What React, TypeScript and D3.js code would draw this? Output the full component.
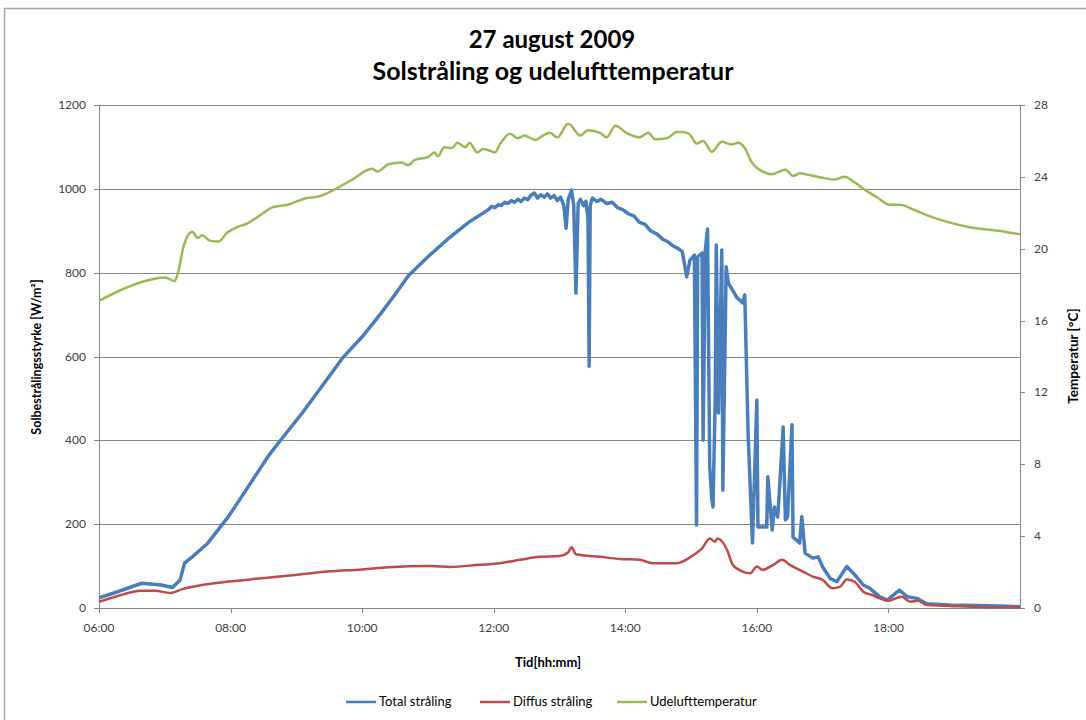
import React from "react";
import * as d3 from "d3";

// ---- Data ----
const totalTimes = ["06:00","06:15","06:39","06:57","07:07","07:14","07:18","07:25","07:39","07:58","08:16","08:34","08:47","09:05","09:23","09:42","10:00","10:09","10:18","10:30","10:42","11:00","11:18","11:37","11:55","11:58","12:01","12:04","12:07","12:10","12:13","12:16","12:19","12:22","12:25","12:28","12:31","12:34","12:37","12:40","12:43","12:46","12:49","12:52","12:55","12:58","13:01","13:04","13:06","13:08","13:11","13:13","13:15","13:17","13:19","13:22","13:24","13:26","13:27","13:28","13:30","13:34","13:38","13:43","13:48","13:53","13:58","14:03","14:08","14:13","14:18","14:23","14:29","14:34","14:38","14:43","14:48","14:52","14:56","14:59","15:03","15:05","15:06","15:10","15:11","15:13","15:15","15:17","15:19","15:20","15:22","15:23","15:25","15:28","15:29","15:32","15:34","15:42","15:47","15:49","15:52","15:56","16:00","16:01","16:09","16:10","16:14","16:16","16:19","16:21","16:24","16:26","16:28","16:32","16:33","16:39","16:41","16:44","16:51","16:56","17:00","17:07","17:13","17:22","17:28","17:37","17:43","17:52","17:59","18:10","18:17","18:26","18:35","18:56","19:42","20:00"];
const totalValues = [24,37,59,55,49,67,107,122,154,218,289,361,405,464,528,596,647,676,706,748,792,838,880,920,950,958,955,962,960,968,965,972,968,975,970,978,974,985,990,978,986,980,988,978,984,972,980,960,906,975,997,960,751,965,975,960,970,930,577,960,978,970,975,965,968,955,950,940,935,920,915,900,892,880,875,865,858,850,790,830,842,198,838,847,400,854,904,337,258,241,496,866,465,854,281,814,775,740,728,747,417,155,496,193,193,313,186,241,217,298,432,210,217,437,169,155,218,131,119,122,98,70,63,99,83,55,47,27,19,43,27,23,10,7,5,3];

const diffusTimes = ["06:00","06:15","06:39","06:51","07:05","07:16","07:28","07:58","08:29","08:59","09:29","10:00","10:24","11:02","11:20","11:47","12:06","12:24","12:42","13:00","13:08","13:11","13:15","13:37","13:55","14:13","14:25","14:47","15:02","15:10","15:17","15:22","15:24","15:33","15:38","15:47","15:54","16:00","16:05","16:15","16:23","16:30","16:42","16:51","17:00","17:09","17:16","17:22","17:29","17:37","17:45","17:52","17:59","18:12","18:20","18:27","18:35","18:56","19:42","20:00"];
const diffusValues = [15,27,41,41,36,45,52,63,71,79,87,92,97,100,98,103,107,115,122,124,133,145,128,122,117,115,107,107,126,142,166,158,166,138,103,87,83,99,91,103,115,103,87,75,67,47,51,68,63,39,31,23,17,27,15,17,7,5,2,2];

const tempTimes = ["06:00","06:42","07:00","07:09","07:12","07:17","07:25","07:30","07:34","07:41","07:49","07:57","08:06","08:15","08:29","08:38","08:52","09:08","09:20","09:35","09:51","10:09","10:14","10:24","10:36","10:42","10:48","11:00","11:06","11:09","11:15","11:22","11:27","11:34","11:38","11:45","11:50","11:57","12:01","12:06","12:15","12:22","12:28","12:38","12:45","12:51","12:58","13:08","13:19","13:26","13:37","13:43","13:51","14:01","14:13","14:21","14:27","14:38","14:47","14:53","14:59","15:05","15:11","15:19","15:28","15:37","15:43","15:49","15:55","16:05","16:14","16:26","16:33","16:39","16:48","17:00","17:11","17:20","17:29","17:38","17:50","18:01","18:10","18:24","18:38","18:56","19:14","19:32","19:46","20:00"];
const tempValues = [17.1,18.2,18.4,18.2,18.65,20.1,20.95,20.6,20.75,20.45,20.4,20.9,21.2,21.4,21.95,22.3,22.45,22.8,22.9,23.3,23.85,24.45,24.3,24.7,24.8,24.65,24.95,25.1,25.35,25.15,25.65,25.6,25.9,25.65,25.9,25.35,25.55,25.45,25.35,25.85,26.4,26.15,26.3,26.05,26.3,26.45,26.2,26.95,26.3,26.6,26.45,26.2,26.85,26.45,26.2,26.45,26.1,26.15,26.5,26.5,26.35,25.85,26.0,25.4,25.95,25.8,25.9,25.6,24.85,24.3,24.15,24.4,24.05,24.2,24.1,23.95,23.85,24.0,23.7,23.3,22.85,22.45,22.45,22.15,21.8,21.45,21.2,21.05,20.95,20.8];

const xTickLabels = ["06:00","08:00","10:00","12:00","14:00","16:00","18:00"];
const leftTicks = [0,200,400,600,800,1000,1200];
const rightTicks = [0,4,8,12,16,20,24,28];

const legendNames = ["Total stråling","Diffus stråling","Udelufttemperatur"];
const colors = ["#4A7EBB","#BE4B48","#98B954"];

const toHours = (s: string) => {
  const [h, m] = s.split(":").map(Number);
  return h + m / 60;
};

export default function App() {
  const W = 1086, H = 720;
  const left = 99, right = 1020, top = 105, bottom = 608;
  const x = d3.scaleLinear().domain([6, 20]).range([left, right]);
  const yL = d3.scaleLinear().domain([0, 1200]).range([bottom, top]);
  const yR = d3.scaleLinear().domain([0, 28]).range([bottom, top]);

  const mk = (times: string[], vals: number[]) => times.map((t, i) => [toHours(t), vals[i]] as [number, number]);
  const lineL = d3.line<[number, number]>().x(d => x(d[0])).y(d => yL(d[1]));
  const lineR = d3.line<[number, number]>().x(d => x(d[0])).y(d => yR(d[1])).curve(d3.curveMonotoneX);
  const lineD = d3.line<[number, number]>().x(d => x(d[0])).y(d => yL(d[1])).curve(d3.curveMonotoneX);

  const font = "Lato, 'Open Sans', sans-serif";
  const axisColor = "#868686";
  const textColor = "#404040";
  const legendX = [346, 480, 617];

  return (
    <svg width={W} height={H} style={{ position: "absolute", left: 0, top: 0, background: "#fff" }} fontFamily={font}>
      <rect x={4.5} y={8.5} width={1200} height={800} fill="#fff" stroke="#A6A6A6" strokeWidth={1.5} />
      <text x={552} y={48} textAnchor="middle" fontSize={24} fontWeight="bold" fill="#000">27 august 2009</text>
      <text x={553} y={80} textAnchor="middle" fontSize={25} fontWeight="bold" fill="#000">Solstråling og udelufttemperatur</text>

      {/* gridlines */}
      {leftTicks.filter(v => v > 0).map(v => (
        <line key={"g" + v} x1={left} x2={right} y1={Math.round(yL(v)) + 0.5} y2={Math.round(yL(v)) + 0.5} stroke={axisColor} strokeWidth={1} />
      ))}
      {/* axes */}
      <line x1={left + 0.5} x2={left + 0.5} y1={top} y2={bottom} stroke={axisColor} />
      <line x1={right + 0.5} x2={right + 0.5} y1={top} y2={bottom} stroke={axisColor} />
      <line x1={left} x2={right} y1={bottom + 0.5} y2={bottom + 0.5} stroke={axisColor} />
      {leftTicks.map(v => (
        <g key={"l" + v}>
          <line x1={left - 5} x2={left} y1={Math.round(yL(v)) + 0.5} y2={Math.round(yL(v)) + 0.5} stroke={axisColor} />
          <text x={86} y={yL(v) + 4} textAnchor="end" fontSize={12} fill={textColor}>{v}</text>
        </g>
      ))}
      {rightTicks.map(v => (
        <g key={"r" + v}>
          <line x1={right} x2={right + 5} y1={Math.round(yR(v)) + 0.5} y2={Math.round(yR(v)) + 0.5} stroke={axisColor} />
          <text x={1034} y={yR(v) + 4} textAnchor="start" fontSize={12} fill={textColor}>{v}</text>
        </g>
      ))}
      {xTickLabels.map(t => (
        <g key={"x" + t}>
          <line x1={Math.round(x(toHours(t))) + 0.5} x2={Math.round(x(toHours(t))) + 0.5} y1={bottom} y2={bottom + 5} stroke={axisColor} />
          <text x={x(toHours(t))} y={bottom + 24} textAnchor="middle" fontSize={12} fill={textColor}>{t}</text>
        </g>
      ))}

      {/* series */}
      <path d={lineL(mk(totalTimes, totalValues)) || ""} fill="none" stroke={colors[0]} strokeWidth={3.5} strokeLinejoin="round" />
      <path d={lineD(mk(diffusTimes, diffusValues)) || ""} fill="none" stroke={colors[1]} strokeWidth={2.5} strokeLinejoin="round" />
      <path d={lineR(mk(tempTimes, tempValues)) || ""} fill="none" stroke={colors[2]} strokeWidth={2.5} strokeLinejoin="round" />

      {/* axis titles */}
      <text transform="translate(41,357) rotate(-90)" textAnchor="middle" fontSize={12.5} fontWeight="bold" fill="#000">Solbestrålingsstyrke [W/m²]</text>
      <text transform="translate(1078,356) rotate(-90)" textAnchor="middle" fontSize={13.5} fontWeight="bold" fill="#000">Temperatur [°C]</text>
      <text x={548} y={667} textAnchor="middle" fontSize={13} fontWeight="bold" fill="#000">Tid[hh:mm]</text>

      {/* legend */}
      {legendNames.map((n, i) => (
        <g key={n}>
          <line x1={legendX[i]} x2={legendX[i] + 30} y1={702} y2={702} stroke={colors[i]} strokeWidth={2.5} />
          <text x={legendX[i] + 33} y={706} fontSize={13} fill="#000">{n}</text>
        </g>
      ))}
    </svg>
  );
}
